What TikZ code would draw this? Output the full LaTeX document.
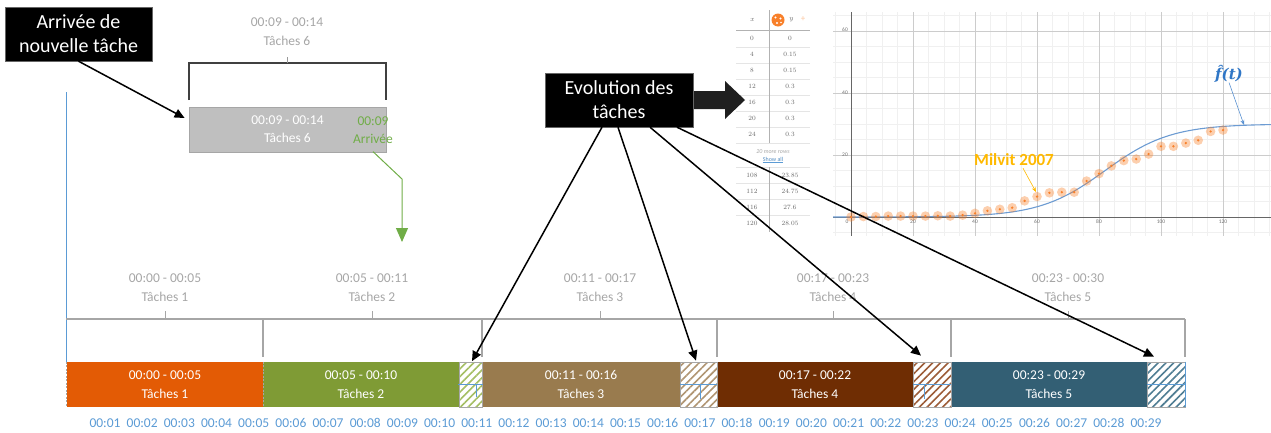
\documentclass[tikz,border=0pt]{standalone}
\usepackage{fontspec}
\setsansfont{Carlito}
\newfontfamily\estfont{DejaVu Serif}
\usetikzlibrary{arrows.meta,patterns.meta,calc}

\definecolor{tOne}{HTML}{E35B05}
\definecolor{tTwo}{HTML}{7F9B35}
\definecolor{tThree}{HTML}{997B4E}
\definecolor{tFour}{HTML}{6F2D03}
\definecolor{tFive}{HTML}{335F74}
\definecolor{hTwo}{HTML}{A4BE63}
\definecolor{hThree}{HTML}{B09572}
\definecolor{hFour}{HTML}{9C5C38}
\definecolor{hFive}{HTML}{4F7D93}
\definecolor{labgray}{HTML}{A6A6A6}
\definecolor{tickblue}{HTML}{5B9BD5}
\definecolor{arrgreen}{HTML}{70AD47}
\definecolor{boxgray}{HTML}{BFBFBF}
\definecolor{dsorange}{HTML}{F8802A}
\definecolor{dscurve}{HTML}{6C9BD2}
\definecolor{fblue}{HTML}{2F76C6}
\definecolor{milgold}{HTML}{FFB900}

\tikzset{
  callout/.style={fill=black, draw=black!60, text=white, align=center, inner sep=0pt,
    font=\sffamily\fontsize{20}{24}\selectfont},
  grouplab/.style={text=labgray, align=center, inner sep=0pt,
    font=\sffamily\fontsize{13.5}{19}\selectfont},
  taskblock/.style={draw=none, text=white, align=center, inner sep=0pt,
    minimum height=45pt, font=\sffamily\fontsize{13.5}{19}\selectfont},
  hatchbox/.style={draw=labgray, line width=0.8pt, minimum height=45pt, inner sep=0pt,
    preaction={fill=white}},
  timelab/.style={text=tickblue, inner sep=0pt, font=\sffamily\fontsize{13.5}{16}\selectfont},
  bracketline/.style={draw=labgray, line width=1.3pt},
  topbracket/.style={draw=black!75, line width=1.1pt},
  blackarrow/.style={draw=black, line width=1.5pt, -{Triangle[length=10pt,width=9pt]}},
  bluemark/.style={draw=tickblue, line width=0.9pt},
  dsminor/.style={draw=black!6, line width=0.6pt},
  dsmajor/.style={draw=black!20, line width=0.8pt},
  dsaxis/.style={draw=black!60, line width=0.8pt},
  axlab/.style={text=black!55, inner sep=0pt, font=\sffamily\fontsize{5.5}{6}\selectfont},
  tabtxt/.style={text=black!60, inner sep=0pt, font=\rmfamily\fontsize{6.5}{7}\selectfont},
  tabrule/.style={draw=black!10, line width=0.6pt}
}

\begin{document}
\begin{tikzpicture}[x=1pt, y=-1pt, font=\sffamily]
\useasboundingbox (0,0) rectangle (1271,432);

% ---------- Desmos-style chart: grid ----------
\begin{scope}
  \clip (833,12) rectangle (1271,236);
  \foreach \k in {-1,...,28} \draw[dsminor] ({851+15.5*\k},12) -- ({851+15.5*\k},236);
  \foreach \k in {-1,...,13} \draw[dsminor] (833,{217-15.5*\k}) -- (1271,{217-15.5*\k});
  \foreach \k in {1,...,7} \draw[dsmajor] ({851+62*\k},12) -- ({851+62*\k},236);
  \foreach \k in {1,2,3} \draw[dsmajor] (833,{217-62*\k}) -- (1271,{217-62*\k});
  \draw[dsaxis] (851,12) -- (851,236);
  \draw[dsaxis] (833,217) -- (1271,217);
  \begin{scope}[shift={(851,217)}, x=3.1pt, y=3.1pt]
    \draw[dscurve, line width=1.1pt] plot[domain=-6:137, samples=140, smooth]
      (\x, {30/(1+exp(-0.095*(\x-82)))});
    \foreach \px/\py in {0/0,4/0.15,8/0.15,12/0.3,16/0.3,20/0.3,24/0.3,28/0.4,32/0.3,
        36/0.6,40/1.2,44/2.0,48/2.5,52/3.0,56/5.2,60/6.6,64/7.8,68/8.0,72/8.0,76/11.6,
        80/14,84/16.5,88/18.2,92/18.7,96/20.3,100/22.8,104/22.8,108/23.85,112/24.75,
        116/27.6,120/28.05}{
      \fill[dsorange, opacity=0.38] (\px,\py) circle[radius=4.8pt];
      \fill[dsorange] (\px,\py) circle[radius=1.3pt];
    }
  \end{scope}
\end{scope}

% axis numbers
\node[axlab, anchor=east] (ay60) at (848,30) {60};
\node[axlab, anchor=east] (ay40) at (848,93) {40};
\node[axlab, anchor=east] (ay20) at (848,155) {20};
\node[axlab] (ax0) at (847,222) {0};
\foreach \v [count=\n] in {20,40,60,80,100,120}
  \node[axlab] (ax\v) at ({851+62*\n},222) {\v};

% curve and data labels
\node[text=milgold, inner sep=0pt, font=\sffamily\bfseries\fontsize{17}{17}\selectfont]
  (mil) at (1014,160) {Milvit 2007};
\coordinate (milpt) at (1036,192);
\draw[draw=milgold, line width=0.6pt, -{Stealth[length=5pt,width=4pt]}] (mil.south) ++(9,2) -- (milpt);
\node[text=fblue, inner sep=0pt, font=\estfont\bfseries\itshape\fontsize{15}{15}\selectfont] (fh) at (1229,74) {f^^^^0302(t)};
\coordinate (fpt) at (1244,125);
\draw[draw=fblue!80, line width=0.6pt, -{Stealth[length=5pt,width=4pt]}] (fh.south) -- (fpt);

% ---------- Desmos-style table ----------
\draw[draw=black!30, line width=0.7pt] (736,30) -- (810,30);
\foreach \yy in {47,63,79,95,111,127,143,167,183,199,215} \draw[tabrule] (736,\yy) -- (810,\yy);
\draw[draw=black!30, line width=0.7pt] (769,10) -- (769,143);
\draw[draw=black!30, line width=0.7pt] (769,167) -- (769,232);
\node[tabtxt, font=\rmfamily\itshape\fontsize{7}{7}\selectfont] (hx) at (752,20) {x};
\fill[dsorange] (778,20) circle[radius=6.5pt];
\fill[white] (775.5,17.5) circle[radius=1.1pt] (780.5,18.5) circle[radius=1.1pt]
  (777,23) circle[radius=1.1pt] (781,22.5) circle[radius=0.9pt];
\node[tabtxt, font=\rmfamily\itshape\fontsize{7}{7}\selectfont] (hy) at (791,20) {y};
\node[text=dsorange!45, inner sep=0pt, font=\sffamily\fontsize{9}{9}\selectfont] (hplus) at (803,19.5) {+};
\foreach \r/\a/\b in {0/0/0,1/4/0.15,2/8/0.15,3/12/0.3,4/16/0.3,5/20/0.3,6/24/0.3}{
  \node[tabtxt] (ra\r) at (752,{38+16*\r}) {\a};
  \node[tabtxt] (rb\r) at (790,{38+16*\r}) {\b};
}
\foreach \r/\a/\b in {0/108/23.85,1/112/24.75,2/116/27.6,3/120/28.05}{
  \node[tabtxt] (sa\r) at (752,{175+16*\r}) {\a};
  \node[tabtxt] (sb\r) at (790,{175+16*\r}) {\b};
}
\node[text=black!35, inner sep=0pt, font=\sffamily\itshape\fontsize{6}{6}\selectfont] (more) at (773,152) {20 more rows};
\node[text=tickblue!90!black, inner sep=0pt, font=\sffamily\fontsize{6}{6}\selectfont] (showall) at (773,159.5) {Show all};
\draw[draw=tickblue, line width=0.4pt] (showall.south west) -- (showall.south east);

% ---------- new task (top left) ----------
\node[callout, minimum width=147pt, minimum height=54pt] (arr) at (78.5,34) {Arrivée de\\nouvelle tâche};
\node[grouplab] (g6) at (287,32) {00:09 - 00:14\\Tâches 6};
\draw[topbracket] (189,100) -- (189,63) -- (386,63) -- (386,100);
\draw[draw=black!40, line width=0.8pt] (287,57) -- (287,63);
\node[fill=boxgray, draw=labgray, line width=0.8pt, text=white, align=center, inner sep=0pt,
  minimum width=197pt, minimum height=45pt, font=\sffamily\fontsize{13.5}{18}\selectfont]
  (t6) at (287.5,129.5) {00:09 - 00:14\\Tâches 6};
\node[text=arrgreen, align=center, inner sep=0pt, font=\sffamily\fontsize{13.5}{18}\selectfont]
  (arv) at (373,130) {00:09\\Arrivée};
\draw[blackarrow] (arr.south) -- ([xshift=-4pt,yshift=11.5pt]t6.west);
\coordinate (gbend) at (402,179);
\coordinate (gtip) at (402,242);
\draw[draw=arrgreen, line width=1pt, -{Triangle[length=14pt,width=12pt]}] ([yshift=-8pt]arv.south) -- (gbend) -- (gtip);

% time axis line on the left
\draw[draw=tickblue, line width=1pt] (66,92) -- (66,362);

% ---------- timeline bracket ----------
\draw[bracketline] (66,319) -- (1185,319);
\foreach \xx in {263,482,717,951,1185} \draw[bracketline] (\xx,319) -- (\xx,357);
\node[grouplab] (g1) at (165,287.5) {00:00 - 00:05\\Tâches 1};
\node[grouplab] (g2) at (372,287.5) {00:05 - 00:11\\Tâches 2};
\node[grouplab] (g3) at (600,287.5) {00:11 - 00:17\\Tâches 3};
\node[grouplab] (g4) at (833,287.5) {00:17 - 00:23\\Tâches 4};
\node[grouplab] (g5) at (1068,287.5) {00:23 - 00:30\\Tâches 5};
\foreach \xx in {165,372,600,833,1068} \draw[bracketline, line width=1pt] (\xx,311) -- (\xx,319);
\draw[draw=black!12, line width=0.8pt] (66,362) -- (1185,362);

% ---------- task bar ----------
\node[taskblock, fill=tOne, minimum width=196pt] (b1) at (165,384.5) {00:00 - 00:05\\Tâches 1};
\node[taskblock, fill=tTwo, minimum width=196pt] (b2) at (361,384.5) {00:05 - 00:10\\Tâches 2};
\node[taskblock, fill=tThree, minimum width=198pt] (b3) at (581,384.5) {00:11 - 00:16\\Tâches 3};
\node[taskblock, fill=tFour, minimum width=196pt] (b4) at (815,384.5) {00:17 - 00:22\\Tâches 4};
\node[taskblock, fill=tFive, minimum width=196pt] (b5) at (1049,384.5) {00:23 - 00:29\\Tâches 5};
\draw[draw=labgray, line width=1pt, dash pattern=on 2pt off 1.5pt] (b1.north west) -- (b1.south west);
\draw[draw=labgray, line width=1pt, dash pattern=on 2pt off 1.5pt] (b1.north east) -- (b1.south east);

\node[hatchbox, minimum width=23pt, pattern={Lines[angle=45,distance=5.5pt,line width=1.6pt]}, pattern color=hTwo] (h2) at (470.5,384.5) {};
\node[hatchbox, minimum width=37pt, pattern={Lines[angle=45,distance=5.5pt,line width=1.6pt]}, pattern color=hThree] (h3) at (698.5,384.5) {};
\node[hatchbox, minimum width=38pt, pattern={Lines[angle=45,distance=5.5pt,line width=1.6pt]}, pattern color=hFour] (h4) at (932,384.5) {};
\node[hatchbox, minimum width=38pt, pattern={Lines[angle=45,distance=5.5pt,line width=1.6pt]}, pattern color=hFive] (h5) at (1166,384.5) {};

% current-time marks inside the hatched slots
\draw[bluemark] (h2.west) -- (h2.east) (476,385) -- (476,397);
\draw[bluemark] (h3.west) -- (h3.east) (700,385) -- (700,399);
\draw[bluemark] (h4.west) -- (h4.east) (924,385) -- (924,399);
\draw[bluemark] (h5.west) -- (h5.east) (h5.north east) -- (h5.south east);

% minute labels
\foreach \i in {1,...,29}{
  \pgfmathsetmacro\tx{105+37.18*(\i-1)}
  \node[timelab] (tl\i) at (\tx,423) {00:\ifnum\i<10 0\fi\i};
}

% ---------- task evolution ----------
\fill[black!88] (693,91) -- (725,91) -- (725,81) -- (745,100) -- (725,119) -- (725,109) -- (693,109) -- cycle;
\node[callout, minimum width=148pt, minimum height=54pt] (evo) at (619,100) {Evolution des\\tâches};
\draw[blackarrow] ([xshift=-17pt]evo.south) -- ([xshift=1.5pt]h2.north);
\draw[blackarrow] ([xshift=-1pt]evo.south) -- ([xshift=-2.5pt,yshift=1pt]h3.north);
\draw[blackarrow] ([xshift=31pt]evo.south) -- ([xshift=-11pt,yshift=6pt]h4.north);
\draw[blackarrow] ([xshift=58pt]evo.south) -- ([xshift=-12pt,yshift=5pt]h5.north);
\end{tikzpicture}
\end{document}
